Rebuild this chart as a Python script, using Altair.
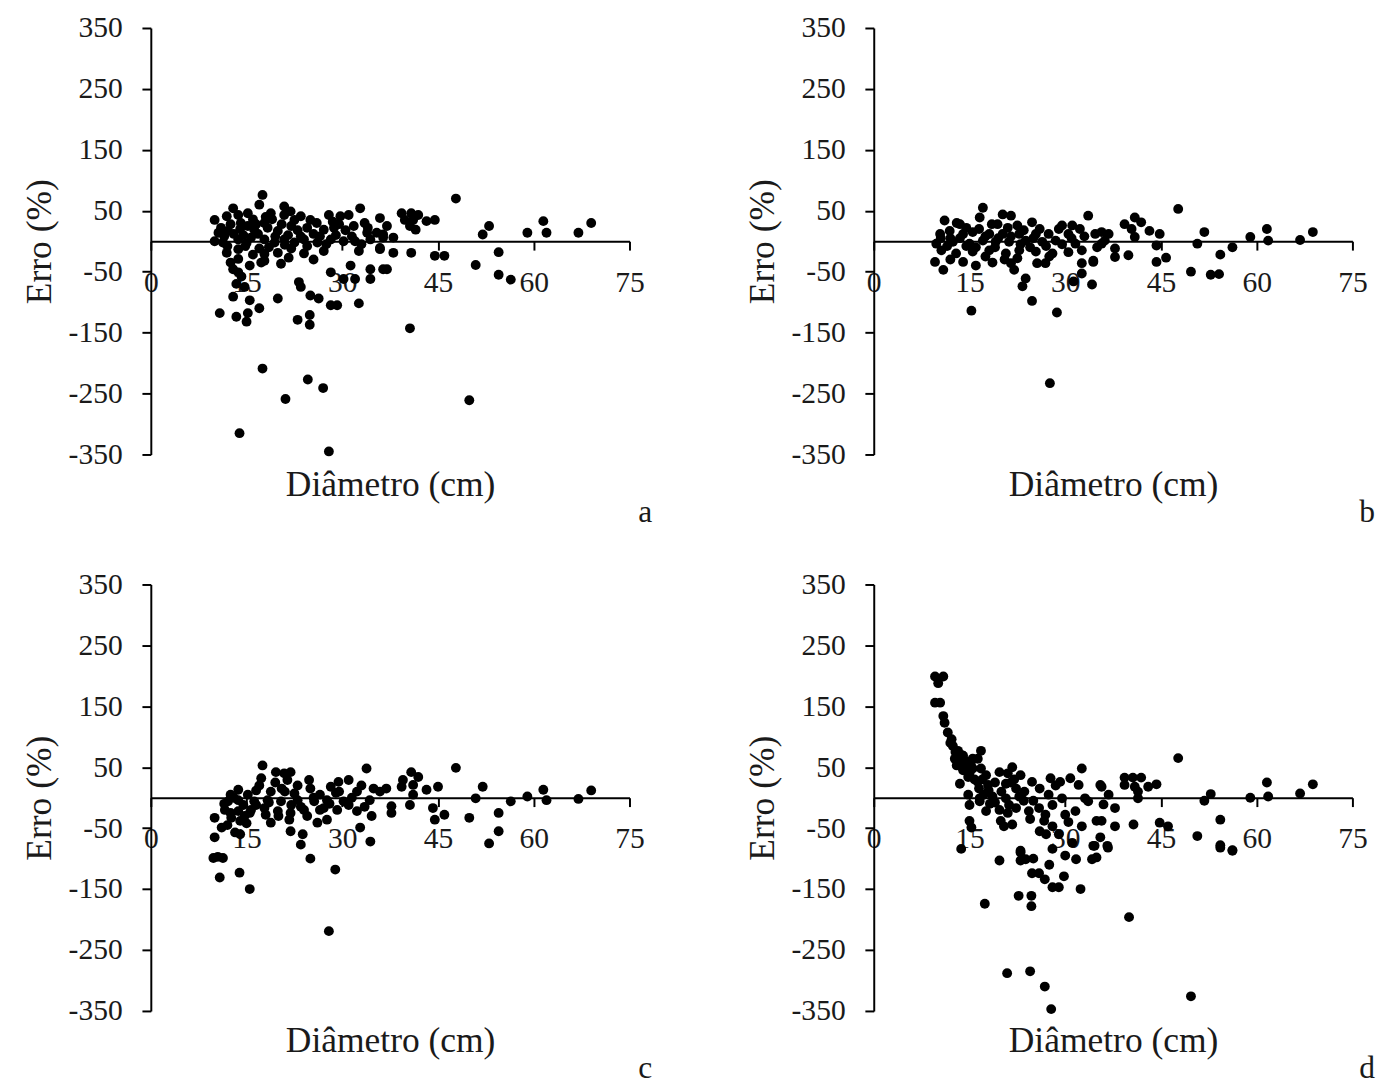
import altair as alt
import pandas as pd

x_ticks = [0, 15, 30, 45, 60, 75]
y_ticks = [-350, -250, -150, -50, 50, 150, 250, 350]
x_title = "Diâmetro (cm)"
y_title = "Erro (%)"
letters = ["a", "b", "c", "d"]

# (diâmetro, erro) pairs
a_pts = [
    (17.5, 76), (12.9, 54), (17.0, 60), (10.0, 35), (11.9, 41), (13.7, 43), (15.2, 46), (18.8, 46),
    (20.9, 57), (21.9, 49), (20.9, 43), (23.5, 41), (25.0, 35), (27.9, 43), (29.7, 41), (31.0, 43),
    (32.8, 54), (35.9, 38), (28.7, 22), (31.8, 25), (33.9, 14), (35.4, 14), (27.1, 19), (10.6, 14),
    (12.1, 17), (15.2, 25), (14.1, 30), (17.8, 30), (16.2, 19), (19.9, 17), (22.0, 25), (10.0, 0),
    (11.3, -2), (13.7, 3), (15.7, 6), (17.8, 3), (19.4, -2), (20.9, 3), (22.5, -2), (24.0, 3),
    (26.1, -2), (28.2, 3), (30.2, 0), (32.0, 0), (34.4, 3), (36.4, 6), (11.9, -19), (13.7, -13),
    (17.8, -21), (19.9, -19), (21.6, -27), (24.5, -8), (27.1, -16), (32.6, -16), (35.9, -13),
    (13.7, -29), (17.8, -32), (12.9, -46), (13.7, -51), (17.3, -35), (20.4, -37), (28.2, -51),
    (31.3, -40), (34.4, -46), (36.4, -46), (32.0, -62), (34.4, -62), (30.2, -62), (13.4, -70),
    (14.7, -75), (23.2, -67), (23.5, -75), (12.9, -91), (15.5, -97), (19.9, -94), (25.0, -89),
    (26.3, -94), (28.2, -105), (29.2, -105), (32.6, -102), (10.8, -118), (13.4, -124), (15.0, -132),
    (15.2, -118), (17.0, -110), (23.0, -129), (24.9, -121), (24.9, -137), (40.6, -143), (17.5, -209),
    (24.6, -227), (27.0, -241), (21.1, -259), (49.9, -261), (13.9, -315), (27.9, -345),
    (47.8, 70), (39.3, 46), (40.8, 46), (41.9, 43), (39.8, 35), (41.1, 35), (43.2, 33), (44.5, 35),
    (41.5, 19), (40.6, 25), (37.0, 25), (36.4, 11), (38.0, 6), (35.9, -11), (38.0, -19), (40.8, -19),
    (44.5, -24), (46.0, -24), (37.0, -46), (52.0, 11), (53.0, 25), (50.9, -39), (54.5, -18),
    (54.5, -55), (56.4, -63), (59.0, 14), (61.5, 33), (62.0, 14), (67.0, 14), (69.0, 30),
    (14.5, 10), (16.8, 12), (18.3, 22), (21.5, 10), (23.0, 18), (12.5, 28), (16.0, 36), (19.0, 36),
    (24.5, 22), (26.5, 8), (29.0, 10), (11.5, 8), (14.8, -8), (18.5, -10), (22.0, -12), (25.5, -30),
    (15.5, -40), (29.5, 28), (33.5, 30),
    (11.0, 22), (12.0, -8), (13.0, 12), (14.0, 20), (15.0, -3), (16.5, 28), (17.0, -12), (18.0, 40),
    (19.5, 8), (20.5, 28), (21.0, -6), (22.5, 35), (23.5, 8), (24.0, -20), (25.5, 12), (26.0, 30),
    (27.5, -5), (28.5, 32), (30.5, 18), (31.5, 8), (33.0, -5), (34.0, 22), (16.0, -22), (12.5, -35),
    (14.2, -58),
]

b_pts = [
    (17.1, 55), (16.6, 39), (11.1, 34), (13.5, 28), (20.2, 44), (21.5, 42), (19.4, 28), (22.5, 26),
    (24.8, 31), (33.6, 42), (29.5, 26), (31.1, 26), (32.3, 20), (10.4, 12), (11.9, 17), (14.0, 12),
    (15.5, 15), (18.1, 12), (20.2, 12), (22.8, 12), (25.4, 12), (27.4, 12), (30.5, 12), (34.7, 12),
    (9.8, -4), (12.4, -1), (15.0, -4), (17.1, 1), (19.1, -1), (21.2, -1), (23.8, 1), (26.4, -1),
    (28.5, 1), (31.6, -4), (36.2, 1), (10.6, -15), (12.9, -20), (15.5, -17), (18.1, -15), (20.7, -20),
    (22.8, -15), (25.4, -17), (28.0, -20), (32.6, -15), (9.6, -34), (10.9, -47), (14.0, -34),
    (18.6, -35), (21.5, -36), (22.0, -47), (25.6, -36), (26.9, -36), (32.6, -36), (34.4, -34),
    (32.6, -53), (23.8, -61), (23.3, -74), (34.2, -71), (31.3, -66), (24.8, -98), (15.3, -114),
    (28.7, -117), (27.6, -233),
    (47.7, 53), (39.3, 28), (40.9, 39), (41.9, 31), (40.4, 20), (43.2, 17), (44.8, 12), (40.9, 7),
    (35.7, 15), (36.8, 12), (35.7, -4), (37.8, -12), (37.8, -26), (39.9, -23), (34.4, -32),
    (44.3, -7), (44.3, -34), (45.8, -27), (50.7, -4), (51.8, 15), (49.7, -50), (52.8, -55),
    (54.1, -54), (54.3, -22), (56.2, -10), (59.0, 7), (61.6, 20), (61.8, 1), (66.8, 2), (68.8, 15),
    (12.0, 5), (14.5, -8), (16.5, 20), (19.0, -10), (21.0, 22), (23.0, -5), (25.0, 5), (27.0, -8),
    (29.0, 20), (31.0, 5), (13.0, 30), (17.5, -25), (22.5, -28),
    (10.5, 5), (11.5, -8), (13.5, 5), (14.5, 22), (16.0, -10), (17.5, 8), (18.5, 28), (19.5, 5),
    (20.5, -30), (21.5, 8), (23.5, 18), (24.5, -10), (26.0, 20), (27.5, -25), (29.5, -5), (30.5, -18),
    (33.0, 8), (35.0, -10), (12.0, -30), (16.0, -40),
]

c_pts = [
    (17.5, 53), (17.3, 32), (19.6, 42), (20.9, 40), (21.9, 42), (21.4, 29), (24.8, 29), (33.8, 48),
    (29.4, 26), (31.0, 29), (25.0, 15), (28.2, 18), (13.7, 13), (15.2, 5), (18.8, 10), (22.5, 7),
    (32.3, 10), (34.9, 15), (12.1, -6), (13.7, -4), (16.2, -6), (18.3, -4), (20.4, -6), (23.0, -4),
    (25.6, -6), (27.6, -4), (30.2, -6), (34.3, -4), (11.6, -20), (13.7, -22), (15.7, -20),
    (17.8, -17), (19.9, -22), (21.9, -25), (24.0, -20), (27.1, -17), (29.2, -20), (32.3, -22),
    (12.6, -33), (14.7, -30), (18.8, -41), (21.7, -36), (26.1, -41), (27.6, -36), (34.6, -30),
    (10.0, -33), (11.1, -49), (13.2, -57), (10.0, -65), (21.9, -55), (23.8, -60), (23.5, -77),
    (32.8, -49), (34.4, -72), (9.8, -99), (11.3, -99), (10.5, -97), (25.0, -100), (28.9, -118),
    (10.8, -131), (13.9, -123), (15.5, -150), (27.9, -219),
    (47.8, 49), (39.5, 29), (40.8, 42), (41.9, 34), (39.3, 18), (41.1, 21), (43.2, 13), (45.0, 18),
    (36.9, 15), (35.9, 10), (41.1, 5), (40.6, -12), (37.7, -14), (37.7, -25), (44.2, -17),
    (44.5, -36), (46.0, -28), (49.9, -33), (50.9, -1), (52.0, 18), (54.5, -25), (54.5, -55),
    (53.0, -75), (56.4, -6), (59.0, 2), (61.5, 13), (62.0, -4), (67.0, -2), (69.0, 12),
    (12.5, 5), (14.5, -12), (16.5, 12), (18.0, -28), (20.5, 15), (23.5, -15), (26.5, 5), (29.0, 8),
    (31.0, -12), (33.0, 20), (15.0, -42),
    (11.5, -10), (12.5, -25), (13.0, 0), (14.0, -38), (15.5, -25), (16.5, -12), (17.0, 20),
    (18.5, -8), (19.5, 25), (20.0, -30), (21.0, 10), (22.0, -12), (23.0, 20), (24.5, -30), (25.5, 0),
    (26.5, -20), (28.0, -10), (29.5, 10), (31.5, 0), (33.5, -15), (12.0, -45), (14.0, -60),
]

d_pts = [
    (9.6, 199), (10.9, 199), (10.1, 188), (9.6, 156), (10.4, 156), (10.9, 134), (11.1, 123),
    (11.6, 107), (12.2, 96), (12.4, 85), (13.2, 77), (14.0, 69), (12.7, 64), (13.0, 53), (14.5, 59),
    (15.5, 64), (16.8, 77), (16.3, 64), (14.0, 45), (15.5, 48), (16.8, 48), (17.6, 37), (13.5, 23),
    (14.8, 34), (16.3, 26), (17.9, 21), (19.7, 42), (21.0, 40), (21.7, 50), (23.0, 37), (20.7, 23),
    (22.3, 15), (23.6, 10), (24.8, 26), (27.7, 32), (29.2, 26), (30.8, 32), (32.6, 48), (32.1, 21),
    (35.5, 21), (14.8, 5), (16.6, -1), (18.6, 2), (20.7, -1), (22.8, 2), (27.4, 5), (29.5, -1),
    (33.1, -1), (15.0, -12), (16.6, -6), (17.6, -22), (19.7, -20), (21.2, -12), (22.3, -17),
    (24.3, -22), (25.9, -17), (26.9, -28), (28.0, -12), (30.0, -28), (31.6, -22), (33.6, -6),
    (15.0, -38), (15.3, -49), (19.9, -38), (20.4, -47), (21.7, -44), (26.7, -38), (28.0, -47),
    (32.6, -47), (34.9, -38), (13.7, -84), (23.0, -87), (28.0, -84), (31.1, -74), (34.4, -79),
    (35.5, -65), (19.7, -103), (23.0, -90), (23.0, -103), (23.8, -101), (30.0, -95), (31.7, -101),
    (34.2, -101), (34.9, -98), (36.7, -82), (24.8, -124), (25.9, -124), (26.8, -134), (29.8, -129),
    (28.0, -147), (29.0, -147), (32.4, -150), (22.7, -161), (24.7, -161), (24.7, -178), (17.4, -174),
    (40.0, -196), (20.9, -288), (24.5, -285), (26.8, -310), (27.8, -347), (49.7, -326),
    (47.7, 65), (39.3, 33), (40.6, 33), (41.9, 33), (39.3, 21), (40.9, 18), (43.0, 18), (44.3, 22),
    (41.4, 10), (41.4, -1), (35.7, 18), (36.8, 5), (36.0, -11), (37.8, -17), (35.7, -38), (37.8, -47),
    (40.7, -44), (44.8, -41), (46.1, -47), (34.6, -79), (36.6, -79), (51.8, -5), (52.8, 6),
    (50.7, -63), (54.3, -36), (54.3, -78), (56.2, -86), (54.3, -82), (56.2, -87), (59.0, 0),
    (61.6, 25), (61.8, 2), (66.8, 7), (68.8, 22),
    (12.0, 90), (13.8, 70), (15.2, 55), (17.0, 30), (18.0, 12), (19.0, -8), (21.5, 25), (25.0, -5),
    (26.0, -55), (29.0, -60),
    (12.8, 75), (13.5, 60), (14.2, 50), (15.0, 40), (15.8, 30), (16.5, 15), (17.2, 5), (18.2, -10),
    (19.0, 25), (20.0, 10), (21.0, -25), (22.0, 30), (23.5, -5), (24.5, -35), (26.0, 15), (27.0, -60),
    (28.5, 20), (30.5, -40), (25.0, -100), (27.5, -110),
]

W, H = 486, 433
FONT = "Liberation Serif"
TXT = "#1a1a1a"
HYPHEN_LABEL = "datum.value < 0 ? '-' + abs(datum.value) : '' + datum.value"


def panel(pts, letter):
    df = pd.DataFrame(pts, columns=["diam", "erro"])
    return (
        alt.Chart(
            df,
            title=alt.TitleParams(
                letter, orient="bottom", anchor="end", font=FONT, fontSize=32,
                fontWeight="normal", color=TXT, offset=-5, dx=8,
            ),
        )
        .mark_circle(size=100, color="black", opacity=1)
        .encode(
            x=alt.X(
                "diam:Q",
                scale=alt.Scale(domain=[0, 75], nice=False, zero=False),
                axis=alt.Axis(
                    values=x_ticks, labelExpr=HYPHEN_LABEL, offset=-H / 2, grid=False,
                    domainColor="black", domainWidth=2, tickColor="black", tickWidth=2,
                    tickSize=9, labelFont=FONT, labelFontSize=30, labelColor=TXT,
                    labelPadding=18, labelFlush=False, labelOverlap=False,
                    title=x_title, titleFont=FONT, titleFontSize=36,
                    titleFontWeight="normal", titleColor=TXT, titlePadding=173,
                ),
            ),
            y=alt.Y(
                "erro:Q",
                scale=alt.Scale(domain=[-350, 350], nice=False, zero=False),
                axis=alt.Axis(
                    values=y_ticks, labelExpr=HYPHEN_LABEL, grid=False,
                    domainColor="black", domainWidth=2, tickColor="black", tickWidth=2,
                    tickSize=9, labelFont=FONT, labelFontSize=30, labelColor=TXT,
                    labelPadding=20, labelFlush=False, labelOverlap=False,
                    title=y_title, titleFont=FONT, titleFontSize=36,
                    titleFontWeight="normal", titleColor=TXT, titlePadding=10,
                ),
            ),
        )
        .properties(width=W, height=H)
    )


top = alt.hconcat(panel(a_pts, letters[0]), panel(b_pts, letters[1]), spacing=94)
bottom = alt.hconcat(panel(c_pts, letters[2]), panel(d_pts, letters[3]), spacing=94)
chart = (
    alt.vconcat(top, bottom, spacing=42)
    .properties(padding={"left": 14, "top": -3, "right": 5, "bottom": 0})
    .configure(background="white")
    .configure_view(strokeWidth=0, stroke="transparent")
)

chart.save("out.html", embed_options={"renderer": "svg", "actions": False})
